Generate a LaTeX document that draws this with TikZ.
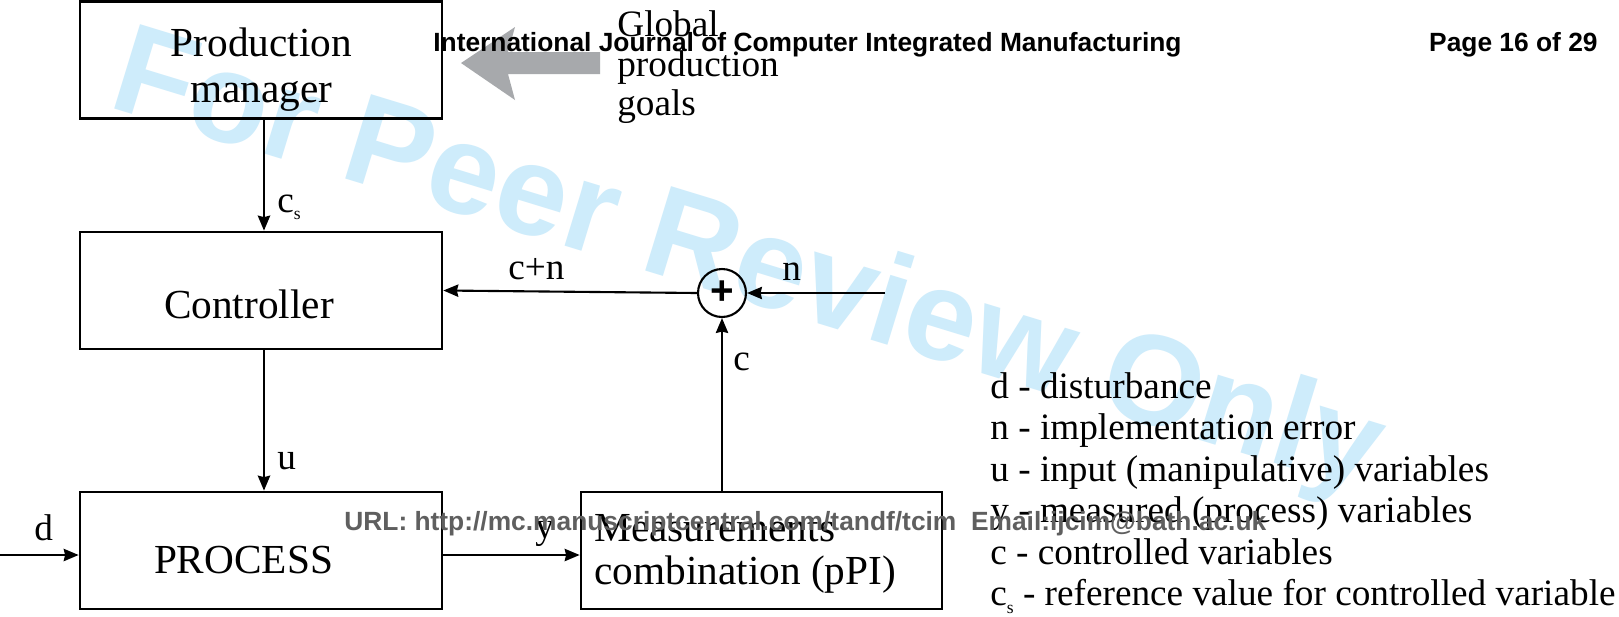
\documentclass[tikz,border=0pt]{standalone}
\usepackage{fontspec}
\setmainfont{Liberation Serif}
\newfontfamily\headfont{Liberation Sans}
\usetikzlibrary{arrows.meta}
\definecolor{wmblue}{RGB}{206,236,251}
\definecolor{arrowgray}{RGB}{167,169,172}
\definecolor{urlgray}{RGB}{95,95,95}
\newcommand{\csvar}{c\raisebox{-4.5pt}{\fontsize{10}{10}\selectfont s}}

\begin{document}
\begin{tikzpicture}[x=0.02cm, y=-0.02cm, >={Stealth[length=8.5pt,width=7pt,inset=0.8pt]},
	block/.style={draw, line width=1.6pt, minimum width=7.24cm, minimum height=2.34cm, inner sep=0pt},
	blocktext/.style={font=\fontsize{23.5}{26.6}\selectfont, inner sep=0pt},
	lbl/.style={font=\fontsize{21.2}{22.7}\selectfont, inner sep=0pt, anchor=base west},
	hdr/.style={font=\headfont\bfseries\fontsize{15}{18}\selectfont, inner sep=0pt},
	wire/.style={line width=1.2pt}]
	\path[fill=white, use as bounding box] (0,0) rectangle (1619,616);
	% watermark
	\node[hdr, font=\headfont\bfseries\fontsize{73}{80}\selectfont, text=wmblue, rotate=-17, anchor=base west] (wm) at (106,106) {For Peer Review Only};
	% blocks
	\node[block] (pm) at (261,60) {};
	\node[block] (ctrl) at (261,290.5) {};
	\node[block] (proc) at (261,550.5) {};
	\node[block, minimum width=7.22cm] (meas) at (761.5,550.5) {};
	\node[draw, circle, wire, minimum size=0.96cm, inner sep=0pt, font=\headfont\bfseries\fontsize{23}{23}\selectfont] (sum) at (722,293) {+};
	\node[blocktext, align=center, anchor=north] (pmtext) at (261.5,27) {Production\\manager};
	\node[blocktext, anchor=base] (ctrltext) at (249,318) {Controller};
	\node[blocktext, anchor=base] (proctext) at (243.5,573) {PROCESS};
	\node[blocktext, font=\fontsize{23.5}{24.4}\selectfont, align=left, anchor=north west] (meastext) at (594,514.5) {Measurements\\combination (pPI)};
	% connectors
	\coordinate (nin) at (885,293);
	\coordinate (din) at (0,555);
	\draw[wire,->] ([xshift=1.7pt]pm.south) -- ([xshift=1.7pt]ctrl.north);
	\draw[wire,->] (sum.west) -- (ctrl.east);
	\draw[wire,->] (nin) -- (sum.east);
	\draw[wire,->] (sum |- meas.north) -- (sum.south);
	\draw[wire,->] ([xshift=1.7pt]ctrl.south) -- ([xshift=1.7pt]proc.north);
	\draw[wire,->] (din) -- (din -| proc.west);
	\draw[wire,->] (din -| proc.east) -- (din -| meas.west);
	\node[lbl] (lcs) at (277,212) {\csvar};
	\node[lbl] (lcn) at (508,279) {c+n};
	\node[lbl] (ln) at (782,280) {n};
	\node[lbl] (lc) at (733,370) {c};
	\node[lbl] (lu) at (277,469) {u};
	\node[lbl] (ld) at (34,540) {d};
	\node[lbl] (ly) at (535,538) {y};
	% goals
	\node[lbl, align=left, anchor=north west] (goals) at (617,10) {Global\\production\\goals};
	\fill[arrowgray] (461,63) -- (515,27) -- (508,52) -- (600,52) -- (600,74) -- (508,74) -- (515,100) -- cycle;
	% legend
	\foreach \i/\t in {1/d - disturbance, 2/n - implementation error, 3/u - input (manipulative) variables, 4/y - measured (process) variables, 5/c - controlled variables, 6/\csvar{} - reference value for controlled variable}
	\node[lbl] (leg\i) at (990,{356.5+41.5*\i}) {\t};
	% page header and footer
	\node[hdr, anchor=base west] (jtitle) at (433,51) {International Journal of Computer Integrated Manufacturing};
	\node[hdr, anchor=base east] (pageno) at (1598,51) {Page 16 of 29};
	\node[hdr, text=urlgray, anchor=base west] (url) at (344,530) {URL: http://mc.manuscriptcentral.com/tandf/tcim\ \ Email:ijcim@bath.ac.uk};
\end{tikzpicture}
\end{document}
